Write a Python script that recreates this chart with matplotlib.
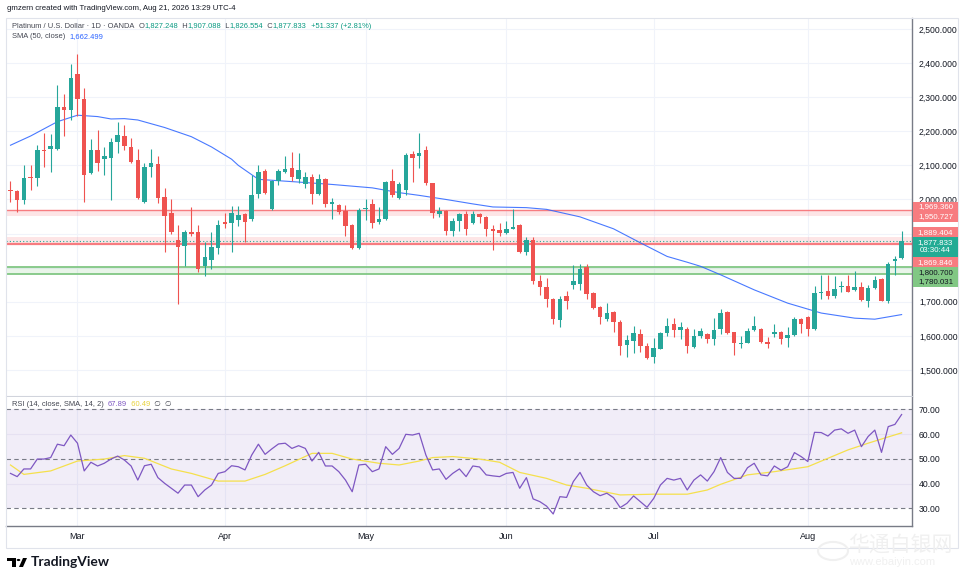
# plot.py - Platinum / USD daily candles with SMA 50 and RSI pane (TradingView style)
import matplotlib
matplotlib.use('Agg')
import matplotlib.pyplot as plt
import numpy as np
import pandas as pd
from matplotlib.patches import Rectangle, Circle, Polygon
from matplotlib.text import Annotation

plt.rcParams['font.family'] = ['Liberation Sans', 'DejaVu Sans']

# trading days (OANDA, Good Friday skipped)
dates = pd.bdate_range('2026-02-16', '2026-08-21')
dates = dates[dates != pd.Timestamp('2026-04-03')]

opens = [2029, 2026, 1998, 2066, 2064, 2145, 2148, 2148, 2270, 2262,
         2368, 2294, 2078, 2145, 2118, 2123, 2169, 2186, 2155, 2116,
         1992, 2096, 2105, 2008, 1959, 1880, 1865, 1905, 1905, 1804,
         1822, 1858, 1934, 1931, 1939, 1958, 1943, 2015, 2083, 1971,
         2054, 2080, 2093, 2059, 2046, 2067, 2015, 2059, 1988, 1985,
         1966, 1926, 1858, 1971, 1987, 1933, 1943, 2053, 2003, 2029,
         2132, 2127, 2144, 2047, 1958, 1966, 1907, 1936, 1958, 1931,
         1956, 1949, 1914, 1910, 1902, 1914, 1924, 1845, 1880, 1762,
         1743, 1709, 1647, 1716, 1748, 1753, 1803, 1727, 1686, 1650,
         1671, 1642, 1574, 1586, 1606, 1571, 1539, 1563, 1608, 1635,
         1616, 1620, 1566, 1600, 1606, 1591, 1620, 1671, 1610, 1575,
         1580, 1616, 1620, 1583, 1606, 1611, 1594, 1603, 1650, 1655,
         1620, 1727, 1733, 1718, 1742, 1747, 1735, 1742, 1703, 1740,
         1767, 1703, 1819, 1827.248]
highs = [2054, 2028, 2100, 2100, 2159, 2196, 2191, 2335, 2309, 2397,
         2426, 2328, 2176, 2203, 2155, 2181, 2226, 2218, 2181, 2149,
         2108, 2147, 2127, 2034, 2000, 1926, 1910, 1978, 1924, 1874,
         1904, 1941, 1959, 1982, 1982, 1960, 2071, 2100, 2090, 2056,
         2088, 2126, 2139, 2137, 2080, 2074, 2076, 2062, 2005, 1987,
         1985, 1928, 1976, 2002, 2000, 1978, 2054, 2088, 2051, 2135,
         2142, 2194, 2157, 2049, 1978, 1970, 1946, 1961, 1966, 1966,
         1960, 1952, 1924, 1931, 1936, 1971, 1927, 1890, 1890, 1779,
         1770, 1712, 1718, 1732, 1809, 1812, 1812, 1729, 1688, 1696,
         1673, 1647, 1603, 1629, 1620, 1578, 1593, 1610, 1652, 1652,
         1642, 1627, 1620, 1623, 1608, 1652, 1679, 1673, 1612, 1600,
         1623, 1659, 1622, 1598, 1635, 1613, 1627, 1655, 1652, 1657,
         1745, 1779, 1779, 1776, 1760, 1779, 1789, 1757, 1750, 1776,
         1769, 1816, 1833, 1907.088]
lows = [1992, 1963, 1988, 2029, 2039, 2095, 2080, 2145, 2186, 2232,
        2245, 1992, 2075, 2083, 2071, 1998, 2137, 2145, 2106, 2002,
        1990, 2066, 1990, 1845, 1900, 1693, 1804, 1892, 1787, 1777,
        1796, 1841, 1917, 1845, 1921, 1876, 1936, 2005, 2015, 1969,
        2042, 2078, 2054, 2047, 2034, 1988, 2013, 1978, 1943, 1958,
        1892, 1856, 1856, 1941, 1917, 1929, 1941, 2008, 2001, 2012,
        2051, 2092, 2042, 1946, 1949, 1897, 1892, 1907, 1897, 1928,
        1931, 1892, 1853, 1892, 1900, 1912, 1843, 1838, 1753, 1721,
        1686, 1635, 1627, 1679, 1738, 1735, 1709, 1679, 1635, 1644,
        1610, 1544, 1539, 1551, 1554, 1531, 1520, 1561, 1600, 1598,
        1590, 1551, 1564, 1594, 1580, 1574, 1605, 1606, 1544, 1564,
        1578, 1614, 1579, 1564, 1598, 1576, 1566, 1601, 1608, 1600,
        1618, 1708, 1708, 1711, 1730, 1728, 1733, 1701, 1686, 1738,
        1701, 1696, 1779, 1826.554]
closes = [2026, 1998, 2064, 2062, 2145, 2142, 2156, 2270, 2262, 2355,
          2294, 2071, 2145, 2108, 2128, 2167, 2190, 2157, 2111, 2004,
          2096, 2108, 2004, 1951, 1905, 1861, 1905, 1898, 1797, 1831,
          1860, 1924, 1927, 1961, 1953, 1933, 2014, 2080, 2020, 2054,
          2083, 2090, 2066, 2085, 2067, 2015, 2059, 1988, 1994, 1963,
          1921, 1858, 1969, 1974, 1931, 1943, 2051, 2012, 2044, 2129,
          2123, 2137, 2047, 1959, 1966, 1907, 1938, 1958, 1912, 1956,
          1948, 1914, 1907, 1902, 1914, 1920, 1845, 1880, 1760, 1743,
          1709, 1650, 1709, 1703, 1760, 1797, 1724, 1681, 1654, 1667,
          1642, 1571, 1588, 1608, 1569, 1534, 1564, 1608, 1629, 1618,
          1626, 1569, 1600, 1615, 1590, 1618, 1667, 1608, 1580, 1580,
          1615, 1629, 1583, 1576, 1612, 1591, 1603, 1650, 1635, 1620,
          1727, 1730, 1716, 1737, 1747, 1730, 1744, 1706, 1740, 1763,
          1703, 1811, 1826.496, 1877.833]

# SMA(50) read at selected bars
sma_bars = [0, 3, 7, 10, 13, 15, 17, 19, 23, 27, 30, 33, 34, 37, 43, 48, 54, 58,
            61, 65, 69, 72, 77, 80, 85, 90, 94, 98, 101, 103, 106, 111, 116, 121,
            126, 129, 133]
sma_vals = [2159, 2186, 2228, 2247, 2243, 2236, 2237, 2233, 2211, 2184, 2154,
            2118, 2100, 2059, 2051, 2044, 2034, 2020, 2012, 2000, 1987, 1978,
            1976, 1971, 1949, 1914, 1873, 1833, 1816, 1804, 1779, 1735, 1696,
            1667, 1652, 1649, 1662.499]

rsi = [44.1, 42.8, 45.9, 45.9, 49.9, 49.9, 50.5, 55.9, 55.3, 59.6,
       56.3, 45.1, 48.6, 47.1, 48.2, 49.9, 51.1, 49.5, 47.1, 41.4,
       47.2, 47.8, 42.4, 40.1, 38.1, 36.1, 39.4, 39.4, 34.7, 37.4,
       39.4, 44.1, 44.8, 47.2, 46.8, 45.5, 51.5, 55.9, 51.8, 54.0,
       56.0, 56.3, 54.2, 55.3, 54.2, 49.1, 52.6, 47.1, 47.1, 44.8,
       41.4, 36.7, 47.5, 47.8, 44.8, 45.9, 54.9, 51.8, 54.2, 59.9,
       59.6, 60.3, 51.5, 45.5, 45.9, 41.7, 44.1, 45.9, 42.8, 47.1,
       46.7, 43.5, 43.1, 42.8, 44.1, 44.5, 38.1, 42.4, 33.8, 32.7,
       30.9, 27.7, 34.7, 34.4, 40.8, 44.5, 39.4, 36.7, 35.1, 36.1,
       34.3, 30.3, 32.0, 35.0, 32.7, 30.4, 34.0, 39.4, 42.1, 41.4,
       42.1, 37.4, 41.4, 43.5, 41.0, 44.8, 50.5, 44.5, 42.1, 42.1,
       46.4, 48.2, 43.5, 43.1, 47.1, 45.4, 46.8, 52.5, 50.9, 48.9,
       60.7, 60.6, 59.2, 61.6, 62.1, 60.3, 61.6, 54.9, 59.0, 61.6,
       52.6, 63.0, 63.9, 67.89]
rsi_sma_bars = [0, 2, 6, 10, 14, 17, 20, 24, 27, 31, 35, 38, 41, 45, 48, 51, 55,
                58, 61, 63, 66, 70, 73, 76, 80, 83, 86, 91, 96, 101, 104, 106,
                110, 114, 119, 122, 125, 128, 130, 133]
rsi_sma_vals = [47.5, 43.7, 45.1, 49.1, 49.9, 51.3, 50.2, 45.9, 44.1, 41.0, 41.0,
                43.7, 47.2, 52.2, 52.2, 49.9, 48.2, 47.5, 49.1, 50.5, 50.9, 49.9,
                48.6, 44.5, 42.1, 39.4, 38.1, 35.4, 35.7, 35.7, 37.4, 39.7, 43.5,
                44.8, 46.8, 50.2, 53.6, 56.3, 58.0, 60.49]

# support / resistance zones: (top, bottom)
red_zones = [(1969.360, 1950.727), (1889.404, 1869.846)]
green_zone = (1800.700, 1780.031)
countdown = '03:30:44'

UP, DN = '#26A69A', '#EF5350'
GRID = '#F0F3FA'
TXT = '#131722'

W, H = 964, 582
fig = plt.figure(figsize=(W / 100, H / 100), dpi=100)
fig.patch.set_facecolor('white')


def px_axes(l, t, r, b):
    return fig.add_axes([l / W, 1 - b / H, (r - l) / W, (b - t) / H])


def P(x, y):
    return (x / W, 1 - y / H)


ax = px_axes(6, 18, 912, 396)
ax2 = px_axes(6, 397, 912, 526)

x = np.arange(len(dates))
o, h, l, c = map(np.array, (opens, highs, lows, closes))
col = np.where(c >= o, UP, DN)

# month gridlines
month_idx = [i for i in range(1, len(dates)) if dates[i].month != dates[i - 1].month]
month_lab = [dates[i].strftime('%b') for i in month_idx]

for a in (ax, ax2):
    for i in month_idx:
        a.axvline(i, color=GRID, lw=0.8, zorder=0)
    a.set_xlim(-0.67, 134.55)
    a.set_facecolor('white')

# --- main pane
price_ticks = list(range(1500, 2600, 100))
for p in price_ticks:
    ax.axhline(p, color=GRID, lw=0.8, zorder=0)

for top, bot in red_zones:
    ax.axhspan(bot, top, color='#F23645', alpha=0.13, lw=0, zorder=1)
ax.axhline(red_zones[0][0], color='#F77C80', lw=1.0, zorder=1.5)
ax.axhline(red_zones[1][1], color='#F77C80', lw=1.6, zorder=1.5)
ax.axhspan(green_zone[1], green_zone[0], color='#4CAF50', alpha=0.12, lw=0, zorder=1)
for g in green_zone:
    ax.axhline(g, color='#81C784', lw=1.3, zorder=1.5)

ax.plot(sma_bars, sma_vals, color='#2962FF', lw=0.8, alpha=0.85, zorder=2)

ax.vlines(x, l, h, colors=col, lw=0.8, zorder=3)
body = np.maximum(np.abs(c - o), 3)
ax.bar(x, body, bottom=np.minimum(o, c), width=0.68, color=col, lw=0, zorder=4)

ax.axhline(closes[-1], color='#22AB94', lw=0.8, ls=(0, (1, 2)), zorder=2.5)

ax.set_ylim(1423.8, 2532)
ax.yaxis.tick_right()
ax.set_yticks(price_ticks)
# 1,800 and 1,900 sit under the coloured price labels
ax.set_yticklabels(['' if v in (1800, 1900) else f'{v:,.3f}' for v in price_ticks])
ax.tick_params(axis='y', length=0, pad=5, labelsize=6.2, labelcolor=TXT)
ax.set_xticks([])
for s in ('top', 'left'):
    ax.spines[s].set_visible(False)
ax.spines['right'].set_color('#787B86')
ax.spines['right'].set_linewidth(1.0)
ax.spines['bottom'].set_color('#D1D4DC')

# price labels on the scale (value, text, box colour, text colour, shift up px, lines)
price_labels = [
    (red_zones[0][0], f'{red_zones[0][0]:,.3f}', '#F77C80', 'white', 3.3, 1),
    (red_zones[0][1], f'{red_zones[0][1]:,.3f}', '#F77C80', 'white', -0.6, 1),
    (red_zones[1][0], f'{red_zones[1][0]:,.3f}', '#F77C80', 'white', 5.0, 1),
    (closes[-1], f'{closes[-1]:,.3f}\n{countdown}', '#22AB94', 'white', -5.5, 2),
    (red_zones[1][1], f'{red_zones[1][1]:,.3f}', '#F77C80', 'white', -18.3, 1),
    (green_zone[0], f'{green_zone[0]:,.3f}', '#81C784', TXT, -4.7, 1),
    (green_zone[1], f'{green_zone[1]:,.3f}', '#81C784', TXT, -7.2, 1),
]
for val, txt, fc, tc, dy, nl in price_labels:
    yc = ax.transData.transform((0, val))[1] + dy
    hgt = 10 * nl
    fig.add_artist(Rectangle((913 / W, (yc - hgt / 2) / H), 45 / W, hgt / H,
                             fc=fc, ec='none', transform=fig.transFigure, zorder=5))
    fig.text(935.5 / W, yc / H, txt, ha='center', va='center', fontsize=5.7,
             color=tc, linespacing=1.05, zorder=6)

# --- RSI pane
ax2.axhspan(30, 70, color='#7E57C2', alpha=0.1, lw=0, zorder=0)
for g in (40, 60):
    ax2.axhline(g, color='#E6E1F2', lw=0.8, zorder=0.5)
for g in (30, 50, 70):
    ax2.axhline(g, color='#787B86', lw=0.8, ls=(0, (4, 3)), zorder=1)
ax2.plot(x, rsi, color='#7E57C2', lw=0.9, zorder=3)
ax2.plot(rsi_sma_bars, rsi_sma_vals, color='#F5E04C', lw=0.9, zorder=2)
ax2.set_ylim(22.85, 74.97)
ax2.yaxis.tick_right()
ax2.set_yticks([30, 40, 50, 60, 70])
ax2.set_yticklabels([f'{v:.2f}' for v in (30, 40, 50, 60, 70)])
ax2.tick_params(axis='y', length=0, pad=5, labelsize=6.2, labelcolor=TXT)
ax2.set_xticks(month_idx)
ax2.set_xticklabels(month_lab)
ax2.tick_params(axis='x', length=0, pad=4, labelsize=6.5, labelcolor=TXT)
ax2.spines['top'].set_visible(False)
ax2.spines['left'].set_visible(False)
for s in ('right', 'bottom'):
    ax2.spines[s].set_color('#787B86')
    ax2.spines[s].set_linewidth(1.0)

# --- frame and header texts
fig.add_artist(Rectangle(P(6, 548), 952 / W, 530 / H, fill=False,
                         ec='#E0E3EB', lw=0.8, transform=fig.transFigure))
fig.text(*P(7, 8), 'gmzern created with TradingView.com, Aug 21, 2026 13:29 UTC-4',
         fontsize=5.6, color=TXT, va='center')


def legend_line(xp, yp, parts, size=5.4):
    t = fig.text(*P(xp, yp), parts[0][0], color=parts[0][1], fontsize=size,
                 va='center', zorder=8)
    for s, cc in parts[1:]:
        t = Annotation(s, xy=(1, 0), xycoords=t, xytext=(0, 0),
                       textcoords='offset pixels', ha='left', va='bottom',
                       fontsize=size, color=cc, annotation_clip=False)
        t.set_zorder(8)
        fig.add_artist(t)


TEAL = '#089981'
chg = closes[-1] - closes[-2]
legend_line(12, 26, [
    ('Platinum / U.S. Dollar · 1D · OANDA  ', '#434651'),
    ('O', '#434651'), (f'{opens[-1]:,.3f}', TEAL),
    ('  H', '#434651'), (f'{highs[-1]:,.3f}', TEAL),
    ('  L', '#434651'), (f'{lows[-1]:,.3f}', TEAL),
    ('  C', '#434651'), (f'{closes[-1]:,.3f}', TEAL),
    (f'  {chg:+.3f} ({chg / closes[-2] * 100:+.2f}%)', TEAL)])
legend_line(12, 37, [('SMA (50, close)  ', '#434651'), (f'{sma_vals[-1]:,.3f}', '#2962FF')])
legend_line(12, 405, [('RSI (14, close, SMA, 14, 2)  ', '#434651'), (f'{rsi[-1]:.2f}', '#7E57C2'),
                      (f'  {rsi_sma_vals[-1]:.2f}', '#E8D33A'), ('  ∅  ∅', '#434651')])

# TradingView logo
fig.add_artist(Polygon([P(7, 558), P(16, 558), P(16, 567), P(12, 567), P(12, 561), P(7, 561)],
                       closed=True, fc='black', ec='none', transform=fig.transFigure))
fig.add_artist(Circle(P(18.5, 560), 1.8 / W, fc='black', ec='none', transform=fig.transFigure))
fig.add_artist(Polygon([P(19, 567), P(23, 567), P(27, 558), P(23, 558)],
                       closed=True, fc='black', ec='none', transform=fig.transFigure))
fig.text(*P(31, 562.5), 'TradingView', fontsize=10, fontweight='bold', color=TXT,
         va='center', family=['Lato', 'DejaVu Sans'])

# faint site watermark
fig.text(*P(848, 545), '华通白银网', fontsize=15, color='#F0F0F0', va='center',
         family=['Noto Sans CJK SC', 'DejaVu Sans'])
fig.text(*P(849, 562), 'www.ebaiyin.com', fontsize=8, color='#F0F0F0', va='center')
fig.add_artist(Circle(P(833, 551), 15 / W, fill=False, ec='#F0F0F0', lw=1.5,
                      transform=fig.transFigure))

fig.savefig('out.png', dpi=100)
